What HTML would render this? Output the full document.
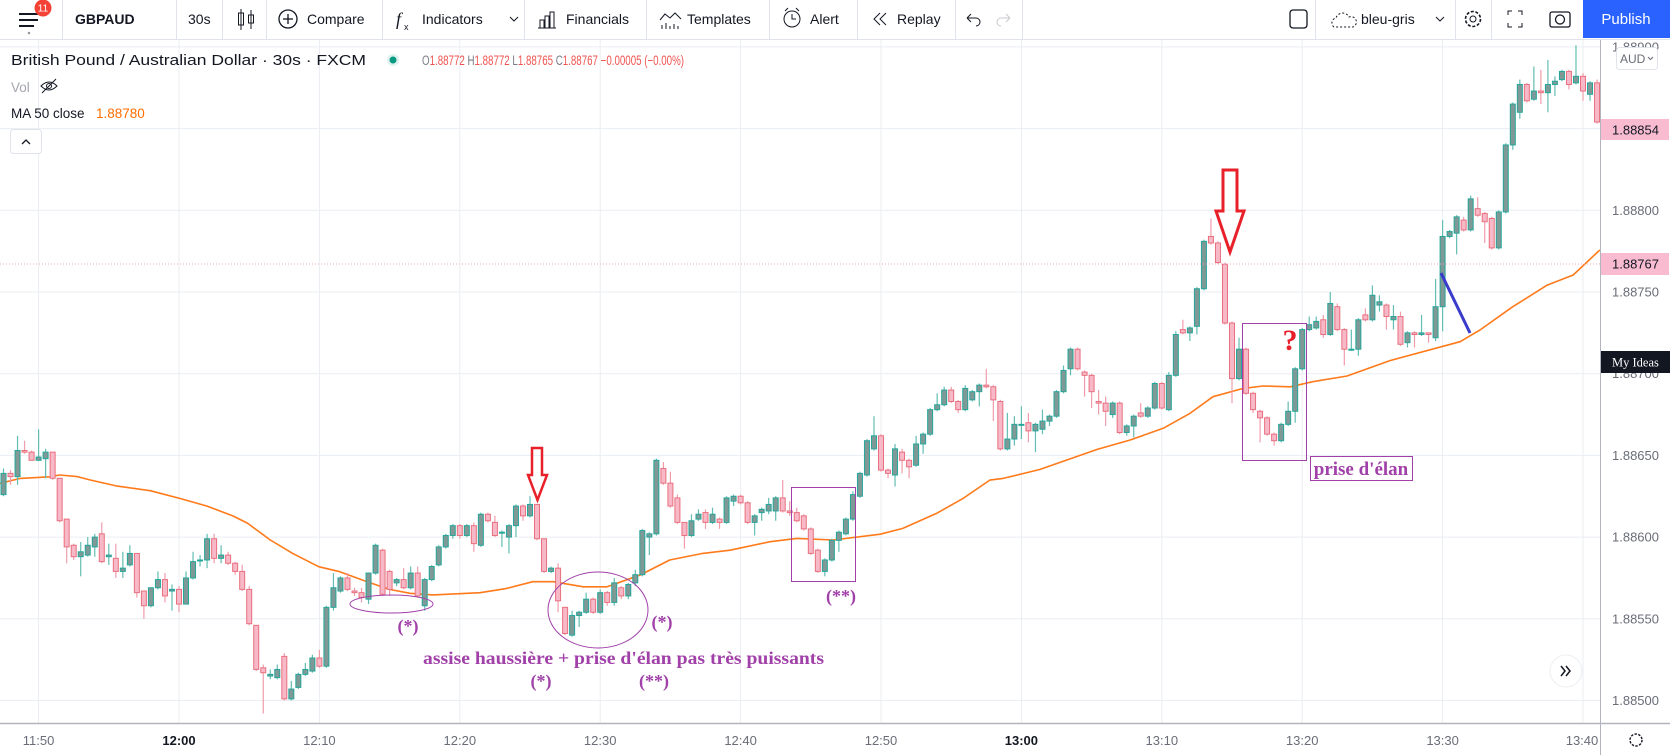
<!DOCTYPE html>
<html><head><meta charset="utf-8">
<style>
html,body{margin:0;padding:0;background:#fff;}
svg{display:block;font-family:"Liberation Sans",sans-serif;}
</style></head>
<body>
<svg id="root" width="1670" height="755" viewBox="0 0 1670 755" xmlns="http://www.w3.org/2000/svg">
<rect x="0" y="0" width="1670" height="755" fill="#ffffff"/>
<!-- TOOLBAR -->
<g>
  <rect x="0" y="0" width="1670" height="39" fill="#fff"/>
  <line x1="0" y1="39.5" x2="1670" y2="39.5" stroke="#e0e3eb"/>
  <g>
    <line x1="19" y1="14" x2="38" y2="14" stroke="#131722" stroke-width="2"/>
    <line x1="19" y1="20" x2="38" y2="20" stroke="#131722" stroke-width="2"/>
    <line x1="19" y1="26" x2="34" y2="26" stroke="#131722" stroke-width="2"/>
    <circle cx="29" cy="33" r="1.3" fill="#999"/>
    <circle cx="43" cy="8" r="8.5" fill="#f44336"/>
    <text x="43" y="11.5" font-size="10" fill="#fff" text-anchor="middle">11</text>
  </g>
  <line x1="62.5" y1="0" x2="62.5" y2="39" stroke="#e0e3eb"/>
  <text x="75" y="24" font-size="14" font-weight="bold" fill="#131722">GBPAUD</text>
  <line x1="176.5" y1="0" x2="176.5" y2="39" stroke="#e0e3eb"/>
  <text x="188" y="24" font-size="14" fill="#131722">30s</text>
  <line x1="222.5" y1="0" x2="222.5" y2="39" stroke="#e0e3eb"/>
  <g stroke="#131722" fill="none">
    <line x1="241" y1="9" x2="241" y2="30"/><rect x="238.5" y="13" width="5" height="12"/>
    <line x1="251" y1="10" x2="251" y2="29"/><rect x="248.5" y="15" width="5" height="8"/>
  </g>
  <line x1="266.5" y1="0" x2="266.5" y2="39" stroke="#e0e3eb"/>
  <g>
    <circle cx="288" cy="19" r="9" fill="none" stroke="#131722" stroke-width="1.3"/>
    <line x1="283" y1="19" x2="293" y2="19" stroke="#131722" stroke-width="1.3"/>
    <line x1="288" y1="14" x2="288" y2="24" stroke="#131722" stroke-width="1.3"/>
    <text x="307" y="24" font-size="14" fill="#131722">Compare</text>
  </g>
  <line x1="382.5" y1="0" x2="382.5" y2="39" stroke="#e0e3eb"/>
  <g>
    <text x="396" y="25" font-size="18" font-style="italic" fill="#131722" font-family="Liberation Serif,serif">f</text>
    <text x="404" y="30" font-size="9" fill="#131722">x</text>
    <text x="422" y="24" font-size="14" fill="#131722">Indicators</text>
    <path d="M510 17 l4 4 l4 -4" fill="none" stroke="#131722"/>
  </g>
  <line x1="524.5" y1="0" x2="524.5" y2="39" stroke="#e0e3eb"/>
  <g>
    <path d="M538 28 h18 M540 28 v-8 h4 v8 M545 28 v-12 h4 v12 M550 28 v-16 h4 v16" fill="none" stroke="#131722"/>
    <text x="566" y="24" font-size="14" fill="#131722">Financials</text>
  </g>
  <line x1="646.5" y1="0" x2="646.5" y2="39" stroke="#e0e3eb"/>
  <g>
    <path d="M660 20 l5 -6 l5 4 l5 -5 l6 6 M662 29 v-4 M666 29 v-6 M670 29 v-3 M674 29 v-5 M678 29 v-3" fill="none" stroke="#131722"/>
    <text x="687" y="24" font-size="14" fill="#131722">Templates</text>
  </g>
  <line x1="769.5" y1="0" x2="769.5" y2="39" stroke="#e0e3eb"/>
  <g>
    <circle cx="792" cy="19" r="8" fill="none" stroke="#131722"/>
    <path d="M792 14 v5 h4 M785 11 l3 -3 M799 11 l-3 -3" fill="none" stroke="#131722"/>
    <text x="810" y="24" font-size="14" fill="#131722">Alert</text>
  </g>
  <line x1="857.5" y1="0" x2="857.5" y2="39" stroke="#e0e3eb"/>
  <g>
    <path d="M880 13 l-6 6 l6 6 M886 13 l-6 6 l6 6" fill="none" stroke="#131722"/>
    <text x="897" y="24" font-size="14" fill="#131722">Replay</text>
  </g>
  <line x1="955.5" y1="0" x2="955.5" y2="39" stroke="#e0e3eb"/>
  <path d="M967 18 h9 a4 4 0 0 1 0 8 M967 18 l4 -4 M967 18 l4 4" fill="none" stroke="#131722"/>
  <path d="M1010 18 h-9 a4 4 0 0 0 0 8 M1010 18 l-4 -4 M1010 18 l-4 4" fill="none" stroke="#c8cad0"/>
  <line x1="1022.5" y1="0" x2="1022.5" y2="39" stroke="#e0e3eb"/>
  <rect x="1290" y="10" width="17" height="18" rx="3" fill="none" stroke="#131722" stroke-width="1.3"/>
  <line x1="1315.5" y1="0" x2="1315.5" y2="39" stroke="#e0e3eb"/>
  <g>
    <path d="M1334 27 a5 5 0 0 1 2 -9 a7 7 0 0 1 13 -1 a5 5 0 0 1 4 10 z" fill="none" stroke="#131722" stroke-dasharray="2 2"/>
    <text x="1361" y="24" font-size="14" fill="#131722">bleu-gris</text>
    <path d="M1436 17 l4 4 l4 -4" fill="none" stroke="#131722"/>
  </g>
  <line x1="1455.5" y1="0" x2="1455.5" y2="39" stroke="#e0e3eb"/>
  <g>
    <circle cx="1473" cy="19" r="7.5" fill="none" stroke="#131722" stroke-width="1.6" stroke-dasharray="3 1.7"/>
    <circle cx="1473" cy="19" r="3" fill="none" stroke="#131722"/>
  </g>
  <line x1="1491.5" y1="0" x2="1491.5" y2="39" stroke="#e0e3eb"/>
  <path d="M1508 15 v-4 h4 M1522 15 v-4 h-4 M1508 23 v4 h4 M1522 23 v4 h-4" fill="none" stroke="#131722"/>
  <g>
    <rect x="1550" y="12" width="20" height="15" rx="2" fill="none" stroke="#131722" stroke-width="1.3"/>
    <circle cx="1560" cy="19.5" r="4.5" fill="none" stroke="#131722" stroke-width="1.3"/>
  </g>
  <g>
    <rect x="1583" y="0" width="87" height="38" fill="#2962ff"/>
    <text x="1626" y="24" font-size="15" fill="#fff" text-anchor="middle">Publish</text>
  </g>
</g>

<g id="grid"></g>
<g id="ma"></g>
<g id="candles"></g>

<!-- price line dotted -->
<line x1="0" y1="264" x2="1600" y2="264" stroke="#f4a3b5" stroke-dasharray="1 2"/>

<!-- LEGEND -->
<g>
  <text x="11" y="65" font-size="14.5" fill="#131722" textLength="355" lengthAdjust="spacingAndGlyphs">British Pound / Australian Dollar · 30s · FXCM</text>
  <circle cx="393" cy="60" r="6" fill="#dff2ef"/><circle cx="393" cy="60" r="3.5" fill="#089981"/>
  <text x="422" y="65" font-size="13.5" textLength="262" lengthAdjust="spacingAndGlyphs"><tspan fill="#787b86">O</tspan><tspan fill="#ef5350">1.88772 </tspan><tspan fill="#787b86">H</tspan><tspan fill="#ef5350">1.88772 </tspan><tspan fill="#787b86">L</tspan><tspan fill="#ef5350">1.88765 </tspan><tspan fill="#787b86">C</tspan><tspan fill="#ef5350">1.88767 −0.00005 (−0.00%)</tspan></text>
  <text x="11" y="92" font-size="13.5" fill="#a3a6af">Vol</text>
  <g fill="none" stroke="#131722">
    <path d="M41 86 q8 -8 16 0 q-8 8 -16 0z"/><circle cx="49" cy="86" r="2.5"/><line x1="42" y1="93" x2="56" y2="79"/>
  </g>
  <text x="11" y="118" font-size="13.5" fill="#131722">MA 50 close</text>
  <text x="96" y="118" font-size="13.5" fill="#ff6d00">1.88780</text>
  <g>
    <rect x="10.5" y="129.5" width="31" height="24" rx="3" fill="#fff" stroke="#e0e3eb"/>
    <path d="M22 144 l4 -4 l4 4" fill="none" stroke="#131722" stroke-width="1.3"/>
  </g>
</g>

<!-- ANNOTATIONS -->
<g font-family="Liberation Serif,serif" font-weight="bold" fill="#a040a8">
  <ellipse cx="391.5" cy="604" rx="41.5" ry="9" fill="none" stroke="#a040a8"/>
  <text x="408" y="632" font-size="18" text-anchor="middle">(*)</text>
  <ellipse cx="598" cy="610" rx="50" ry="38" fill="none" stroke="#a040a8"/>
  <text x="662" y="628" font-size="18" text-anchor="middle">(*)</text>
  <text x="423" y="664" font-size="18" textLength="401" lengthAdjust="spacingAndGlyphs">assise haussière + prise d'élan pas très puissants</text>
  <text x="541" y="687" font-size="18" text-anchor="middle">(*)</text>
  <text x="654" y="687" font-size="18" text-anchor="middle">(**)</text>
  <rect x="791.5" y="487.5" width="64" height="94" fill="none" stroke="#a040a8"/>
  <text x="841" y="602" font-size="18" text-anchor="middle">(**)</text>
  <rect x="1242.5" y="323.5" width="64" height="137" fill="none" stroke="#a040a8"/>
  <text x="1290" y="350" font-size="30" fill="#e8202a" text-anchor="middle">?</text>
  <rect x="1310.5" y="456.5" width="102" height="24" fill="#fff" stroke="#a040a8"/>
  <text x="1361" y="475" font-size="19" text-anchor="middle">prise d'élan</text>
  <path d="M532 448 h10 v27 h5 l-9.5 25 l-9.5 -25 h4 z" fill="none" stroke="#e8202a" stroke-width="2.5"/>
  <path d="M1223 170 h14 v41 h7 l-14 41 l-14 -41 h7 z" fill="none" stroke="#e8202a" stroke-width="3"/>
  <line x1="1441" y1="273" x2="1470" y2="333" stroke="#3a3acc" stroke-width="3"/>
</g>

<!-- scroll button -->
<g>
  <circle cx="1566" cy="671" r="16" fill="#fff" stroke="#eceef2"/>
  <path d="M1561 666 l4 5 l-4 5 M1566 666 l4 5 l-4 5" fill="none" stroke="#131722" stroke-width="1.5"/>
</g>

<!-- AXES -->
<g id="axes">
  <rect x="1601" y="40" width="69" height="683" fill="#fff"/>
  <rect x="0" y="724" width="1670" height="31" fill="#fff"/>
  <line x1="1600.5" y1="40" x2="1600.5" y2="755" stroke="#b2b5be"/>
  <line x1="0" y1="723.5" x2="1670" y2="723.5" stroke="#b2b5be" stroke-width="1.5"/>
</g>
<g id="yticks"></g>
<g id="xticks"></g>
<g>
  <g>
    <rect x="1616.5" y="47.5" width="41" height="22" rx="3" fill="#fff" stroke="#e0e3eb"/>
    <text x="1620" y="63" font-size="12" fill="#6a6d78">AUD</text>
    <path d="M1648 57 l2.5 2.5 l2.5 -2.5" fill="none" stroke="#6a6d78"/>
  </g>
  <g>
    <rect x="1601" y="119" width="68" height="21" fill="#f8bbd0"/>
    <text x="1612" y="134.5" font-size="13" fill="#131722">1.88854</text>
  </g>
  <g>
    <rect x="1601" y="253" width="68" height="22" fill="#f8bbd0"/>
    <text x="1612" y="268.5" font-size="13" fill="#131722">1.88767</text>
  </g>
  <g>
    <rect x="1601" y="351" width="69" height="22" fill="#131722"/>
    <text x="1612" y="366.5" font-size="12.5" fill="#fff" font-family="Liberation Serif,serif">My Ideas</text>
  </g>
  <g>
    <circle cx="1636" cy="740" r="6" fill="none" stroke="#131722" stroke-width="1.4" stroke-dasharray="2.4 1.4"/>
  </g>
</g>

<script>
// ===== DATA (price offsets in 0.00001 from 1.88500; candle index in 30s bars from 11:50) =====
const startIndex = -5;
const opens = [126,139,137,153,152,147,148,152,136,111,95,88,89,94,102,88,87,79,83,90,67,58,69,74,67,68,59,75,86,86,99,87,89,84,79,68,46,20,15,14,27,1,8,16,18,26,21,57,67,75,67,66,62,78,92,79,72,74,69,78,58,74,83,94,101,107,101,107,95,114,109,103,100,107,119,113,120,99,79,81,57,40,52,54,62,54,66,60,69,64,72,77,100,102,142,133,124,109,101,111,115,109,111,109,122,125,121,109,115,116,116,124,116,115,113,105,92,79,86,98,102,111,125,138,154,162,141,138,152,147,144,157,163,178,181,190,183,178,184,189,193,192,183,154,160,169,170,165,166,171,174,189,203,215,201,199,183,182,175,182,164,168,176,174,179,194,178,199,227,225,229,252,284,280,267,231,197,215,188,177,173,163,159,169,177,203,227,228,233,224,241,227,215,215,236,233,242,242,233,235,219,225,224,225,222,241,284,286,294,288,301,298,295,277,299,340,360,377,368,373,372,377,380,385,378,382,371,378];
const closes = [139,137,153,152,147,149,152,136,110,94,88,91,95,100,85,89,79,81,90,66,58,69,74,64,68,59,75,85,86,99,87,89,84,79,68,47,19,17,16,19,1,7,16,19,26,21,57,69,75,68,66,63,78,95,65,68,74,69,78,64,74,82,94,101,107,101,107,96,114,110,101,103,107,119,113,120,99,79,81,61,41,52,54,62,54,66,60,72,64,71,77,104,102,147,133,119,109,101,110,114,109,114,109,124,125,121,109,113,117,120,124,116,115,110,105,90,79,86,98,103,111,126,139,159,162,141,139,154,147,143,157,163,178,181,190,183,178,191,189,193,192,184,154,160,169,169,165,169,171,174,189,202,215,203,199,189,182,177,182,164,168,174,174,179,194,179,199,224,225,228,252,281,280,268,231,197,215,188,178,173,163,159,169,177,203,227,230,232,224,243,227,215,215,233,233,248,244,235,235,218,225,224,225,224,241,284,287,296,288,307,297,293,277,299,340,365,377,367,373,372,377,379,385,377,382,373,378,354];
const highs = [142,141,162,159,153,166,154,152,136,111,96,97,100,102,109,96,96,91,95,90,67,69,79,78,71,70,79,91,89,102,102,95,91,85,83,70,46,22,19,22,29,12,17,23,28,31,58,78,76,78,69,69,78,96,93,80,75,81,82,82,75,83,95,102,108,108,108,109,115,115,113,104,108,120,120,125,120,99,82,84,57,55,55,66,63,68,67,75,70,72,80,105,103,148,146,140,126,109,114,117,117,118,112,125,126,126,122,114,118,124,125,135,122,118,114,106,93,87,99,104,112,128,140,160,174,163,142,157,154,148,162,164,179,188,192,192,184,193,190,194,203,193,184,176,174,180,176,170,178,175,190,205,216,216,202,200,190,186,183,183,169,175,182,180,195,195,201,226,233,229,253,282,295,281,268,232,222,216,189,178,174,164,170,183,204,228,235,235,236,250,243,228,227,234,240,254,248,243,242,238,226,226,236,225,258,294,288,297,296,309,308,299,296,300,341,366,380,378,388,386,392,382,386,386,401,384,379,380];
const lows = [125,132,132,151,147,147,136,135,109,84,86,76,88,88,84,83,75,75,82,63,50,57,68,60,55,54,59,74,82,81,84,84,83,77,67,46,18,-8,13,13,0,0,7,15,17,20,20,55,66,67,64,60,59,77,64,64,70,68,68,63,55,73,82,93,99,99,100,91,94,109,100,94,90,100,110,112,98,78,78,54,40,39,45,53,53,53,58,58,62,62,70,76,89,101,132,118,108,93,100,110,105,108,105,108,119,120,108,101,110,114,110,115,113,109,104,89,78,76,85,91,101,110,124,137,153,140,136,131,139,136,143,151,162,177,180,182,176,177,183,180,191,171,153,153,156,160,158,152,163,168,173,188,199,202,186,179,175,168,173,163,162,161,173,173,178,178,177,198,224,220,224,251,279,267,230,182,196,187,176,158,162,156,158,168,170,202,226,227,222,223,226,205,214,211,232,232,238,227,227,217,216,216,223,219,220,226,283,273,287,287,296,280,276,276,298,337,356,366,367,365,360,370,379,374,377,367,367,353];
const maIndex = [-5.5,-2.6,1.6,3,5.5,7.3,11.2,15.9,20.1,24,27.7,29.8,33,36.2,39.9,42.9,46.8,50,52.9,56.2,62.9,66.7,70.4,73.3,77.6,81,85.7,89.9,94.6,98.5,104.2,108,113.2,119.9,123.1,127.9,131.7,135.5,137.4,142.6,150.8,155.5,160.2,164,167.3,171.6,174.4,178.3,181.5,186.4,192.5,202.5,205.3,210,214.9,218.6,222.4];
const maValues = [132.9,135.9,136.9,138,137,135,131.2,128.4,123.7,119,112.9,108.4,98.2,90,81.9,78.8,72.7,68,65.6,64.6,66,68.6,72.7,72.7,69.6,69.6,76.8,86,90,92,97.2,99.2,98.2,101.8,105.3,114.5,123.7,134.9,135.9,141.4,153.7,159.4,166.6,175.7,185.9,191,192.5,192,195.1,198.6,208,219.6,226.7,241,254.2,260.4,275.7];
const priceTicks = [0,50,100,150,200,250,300,350,400];
const priceTickLabels = ["1.88500","1.88550","1.88600","1.88650","1.88700","1.88750","1.88800","1.88850","1.88900"];
const timeTickIndex = [0,20,40,60,80,100,120,140,160,180,200,220];
const timeTickLabels = ["11:50","12:00","12:10","12:20","12:30","12:40","12:50","13:00","13:10","13:20","13:30","13:40"];
const boldTimes = ["12:00","13:00"];

// ===== SCALES =====
function xOf(i){ return 38.6 + i*7.02; }
function yOf(v){ return 700.5 - v*1.634; }
const NS = "http://www.w3.org/2000/svg";
function mk(tag, attrs, parent){ const e=document.createElementNS(NS,tag); for(const k in attrs) e.setAttribute(k, attrs[k]); parent.appendChild(e); return e; }

// grid
const grid = document.getElementById('grid');
priceTicks.forEach(function(v){
  const l = mk('line',{x1:0,x2:1600,y1:yOf(v),y2:yOf(v),stroke:'#eaedf2','stroke-width':1},grid);
  
  
});
timeTickIndex.forEach(function(i){
  const l = mk('line',{x1:xOf(i),x2:xOf(i),y1:40,y2:723,stroke:'#eaedf2','stroke-width':1},grid);
  
  
});

// MA line
const maG = document.getElementById('ma');
let d = '';
maIndex.forEach(function(i,k){ d += (k?'L':'M') + xOf(i).toFixed(1) + ' ' + yOf(maValues[k]).toFixed(1) + ' '; });
const maPath = mk('path',{d:d,fill:'none',stroke:'#ff7a1a','stroke-width':1.6,'stroke-linejoin':'round'},maG);



// candles
const cg = document.getElementById('candles');
opens.forEach(function(o,k){
  const c = closes[k], h = highs[k], lo = lows[k];
  const up = c >= o;
  const x = xOf(startIndex + k);
  const g = mk('g',{},cg);
  
  
  mk('line',{x1:x,x2:x,y1:yOf(h),y2:yOf(lo),stroke: up?'#62bdb2':'#f09cab','stroke-width':1.2},g);
  const top = yOf(Math.max(o,c)), bot = yOf(Math.min(o,c));
  mk('rect',{x:x-2.5,y:top,width:5,height:Math.max(1,bot-top),fill: up?'#7f9996':'#f7b9c7',stroke: up?'#26a69a':'#e8707f','stroke-width':1},g);
});

// y ticks
const yt = document.getElementById('yticks');
priceTicks.forEach(function(v,k){
  const t = mk('text',{x:1612,y:yOf(v)+4.5,'font-size':13,fill:'#6a6d78'},yt);
  t.textContent = priceTickLabels[k];
  
  
});
// x ticks
const xt = document.getElementById('xticks');
timeTickIndex.forEach(function(i,k){
  const lab = timeTickLabels[k];
  const x = Math.min(xOf(i), 1582);
  const t = mk('text',{x:x,y:745,'font-size':13,fill: boldTimes.indexOf(lab)>=0?'#131722':'#6a6d78','font-weight': boldTimes.indexOf(lab)>=0?'bold':'normal','text-anchor':'middle'},xt);
  t.textContent = lab;
  
  
});
</script>
</svg>
</body></html>
